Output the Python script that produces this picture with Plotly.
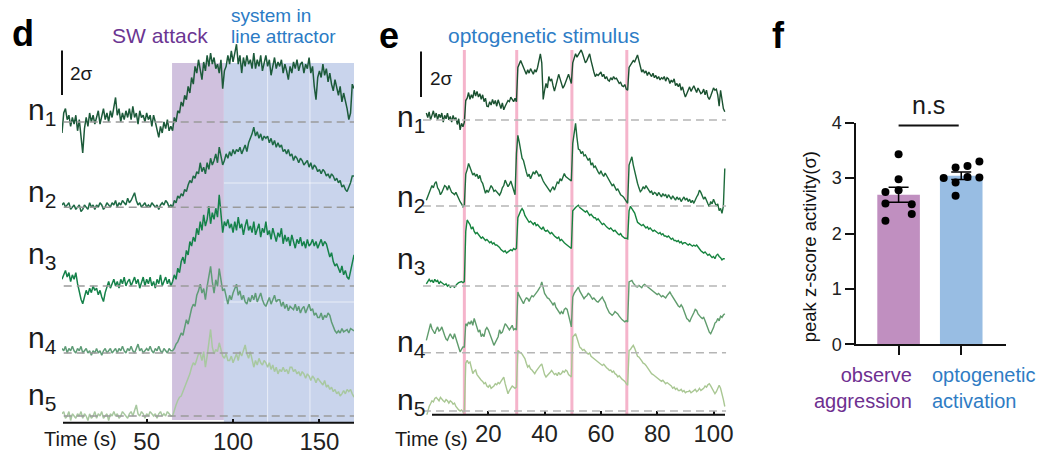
import plotly.graph_objects as go

# ---------------- DATA ----------------
# panel d : z-scored traces (sigma, relative to each neuron's baseline), 1 s sampling from t = 1 s
d_t0, d_step = 1.0, 1.0
d_n1 = [-0.5, 0.4, 0.6, 0.1, 0.3, -0.2, 0.2, -0.1, 0.3, -0.4,
        0.1, -0.6, -1.4, -0.3, 0.2, -0.2, 0.4, 0.0, 0.3, -0.1,
        0.2, 0.5, -0.1, 0.3, 0.6, 0.1, 0.4, 0.0, 0.5, 0.2,
        0.7, 1.1, 0.3, 0.6, 0.0, 0.4, 0.1, 0.5, 0.2, 0.6,
        0.1, 0.7, 0.2, 0.4, -0.1, 0.5, 0.2, 0.3, 0.0, 0.4,
        0.1, 0.3, -0.2, 0.3, 0.0, -0.3, -0.7, -0.2, -0.5, 0.0,
        -0.3, 0.1, -0.4, -0.2, -0.4, 0.2, 0.0, 0.5, 0.4, 0.9,
        0.7, 1.2, 1.0, 1.6, 1.3, 2.0, 1.7, 2.5, 2.2, 2.8,
        2.4, 1.9, 2.7, 2.3, 3.0, 2.5, 3.1, 2.6, 2.9, 2.4,
        2.6, 2.2, 2.8, 1.5, 2.3, 2.5, 3.0, 2.6, 3.2, 2.7,
        3.1, 3.5, 2.6, 3.0, 2.2, 2.9, 2.5, 3.0, 2.6, 2.8,
        2.4, 3.1, 2.4, 2.8, 2.5, 3.0, 2.3, 2.7, 3.0, 2.5,
        2.8, 2.1, 2.6, 2.9, 2.4, 2.7, 2.5, 2.8, 2.2, 2.6,
        2.3, 1.9, 2.5, 2.2, 2.7, 2.4, 2.8, 2.3, 2.6, 2.7,
        2.2, 2.6, 2.4, 2.9, 2.2, 2.5, 1.6, 1.0, 2.0, 2.3,
        2.0, 2.6, 2.1, 2.4, 1.8, 2.2, 1.7, 1.4, 1.9, 1.5,
        1.2, 1.6, 0.9, 1.3, 1.0, 0.6, 0.1, 0.4, 1.7, 1.5]
d_n2 = [0.1, 0.2, 0.0, 0.1, 0.2, -0.1, 0.0, 0.1, -0.1, 0.0,
        0.1, -0.2, -0.1, 0.1, 0.0, -0.1, 0.2, 0.0, 0.1, -0.1,
        0.1, 0.0, 0.2, 0.1, -0.1, 0.0, 0.2, 0.1, 0.0, 0.2,
        0.1, 0.3, 0.0, 0.2, 0.1, 0.3, 0.2, 0.1, 0.4, 0.2,
        0.3, 0.5, 0.65, 0.3, 0.1, 0.2, 0.0, 0.1, 0.2, 0.0,
        0.1, 0.0, 0.2, 0.1, 0.0, 0.1, -0.1, 0.1, 0.2, 0.1,
        0.3, 0.2, 0.0, 0.1, 0.0, 0.3, 0.2, 0.5, 0.4, 0.6,
        0.5, 0.8, 0.7, 1.0, 1.2, 1.1, 1.4, 1.3, 1.6, 1.5,
        2.0, 1.6, 1.8, 1.5, 2.0, 1.7, 2.2, 1.9, 2.1, 2.4,
        2.0, 2.7, 2.3, 1.9, 2.1, 2.4, 2.2, 2.5, 2.3, 2.6,
        2.4, 2.6, 2.5, 2.7, 2.4, 2.6, 2.8, 2.5, 2.9, 3.1,
        3.3, 3.6, 3.2, 3.4, 3.1, 3.3, 3.0, 3.2, 3.1, 3.2,
        2.9, 3.1, 2.8, 3.0, 2.7, 2.9, 2.7, 2.8, 2.5, 2.6,
        2.4, 2.6, 2.3, 2.4, 2.1, 2.3, 2.2, 2.0, 2.2, 2.1,
        1.9, 2.0, 2.1, 1.8, 2.0, 1.7, 1.9, 1.8, 1.6, 1.7,
        1.5, 1.7, 1.6, 1.4, 1.5, 1.3, 1.5, 1.4, 1.2, 1.3,
        1.1, 1.2, 0.9, 1.0, 0.8, 0.7, 0.9, 1.1, 1.4, 1.4]
d_n3 = [0.3, 0.5, 0.7, 0.4, 0.6, 0.2, 0.5, 0.3, 0.6, 0.1,
        -0.3, -0.6, -0.8, -0.5, -0.2, -0.4, -0.1, -0.3, 0.0, -0.2,
        -0.1, -0.4, -0.2, -0.5, -0.7, -0.3, 0.0, 0.2, -0.1, 0.1,
        0.3, 0.0, 0.2, -0.1, 0.3, 0.1, 0.4, 0.0, 0.2, 0.3,
        0.0, 0.2, 0.4, 0.1, 0.3, -0.1, 0.2, 0.4, 0.0, 0.3,
        0.1, 0.4, 0.0, 0.2, -0.1, 0.3, 0.1, 0.5, 0.0, 0.2,
        0.4, 0.1, 0.3, 0.0, 0.2, 0.5, 0.3, 0.8, 0.6, 1.1,
        1.3, 1.0, 1.6, 1.4, 2.0, 1.8, 2.2, 2.0, 2.6, 2.3,
        2.9, 2.5, 3.2, 2.7, 3.0, 3.6, 2.8, 3.3, 3.0, 3.5,
        3.1, 4.1, 3.3, 2.4, 2.9, 2.7, 3.0, 2.6, 2.8, 2.4,
        2.9, 2.5, 3.1, 2.6, 2.8, 2.3, 2.7, 3.0, 2.5, 2.7,
        2.4, 2.9, 2.3, 2.6, 2.8, 2.2, 2.6, 2.4, 2.9, 2.3,
        2.5, 2.1, 2.6, 2.3, 2.0, 2.4, 2.2, 2.6, 1.9, 2.3,
        2.0, 2.2, 1.8, 2.3, 2.0, 1.7, 2.1, 1.9, 2.2, 1.8,
        2.0, 1.7, 2.1, 1.8, 1.9, 2.1, 1.8, 2.0, 1.7, 1.9,
        2.1, 1.8, 2.0, 1.9, 1.6, 1.3, 1.5, 1.1, 0.9, 1.0,
        0.8, 0.6, 0.9, 0.5, 0.7, 0.4, 0.3, 0.7, 1.1, 1.4]
d_n4 = [0.2, 0.1, 0.3, 0.0, 0.2, 0.1, 0.3, 0.1, 0.0, 0.2,
        0.1, 0.3, 0.0, 0.1, 0.2, 0.0, 0.1, -0.1, 0.1, 0.0,
        0.2, 0.0, 0.1, -0.1, 0.1, 0.2, 0.0, 0.1, 0.2, 0.0,
        0.1, 0.2, 0.0, 0.2, 0.1, 0.3, 0.1, 0.0, 0.2, 0.1,
        0.3, 0.1, 0.0, 0.2, 0.4, 0.1, 0.2, 0.0, 0.1, 0.2,
        0.1, 0.3, 0.1, 0.0, 0.2, 0.1, 0.3, 0.1, 0.0, 0.2,
        0.1, 0.0, 0.2, 0.1, 0.1, 0.2, 0.4, 0.5, 0.7, 0.9,
        0.8, 1.1, 1.5, 1.3, 1.7, 2.0, 2.2, 2.1, 2.6, 2.8,
        3.1, 2.7, 2.9, 2.4, 3.0, 3.4, 3.9, 3.2, 2.7, 3.3,
        3.0, 3.8, 3.3, 2.8, 2.9, 2.5, 2.2, 2.6, 2.4, 2.7,
        2.9, 3.1, 2.6, 2.8, 2.4, 2.6, 2.3, 2.2, 2.5, 2.3,
        2.6, 2.4, 2.7, 2.3, 2.5, 2.7, 2.4, 2.2, 2.1, 2.3,
        2.5, 2.2, 2.4, 2.6, 2.3, 2.4, 2.4, 2.1, 2.3, 2.0,
        2.2, 1.9, 2.1, 2.0, 1.95, 2.2, 1.9, 2.1, 1.8, 2.0,
        2.1, 1.8, 2.0, 2.2, 1.9, 2.0, 1.7, 1.8, 1.6, 1.6,
        1.8, 1.5, 1.7, 1.6, 1.8, 1.7, 1.4, 1.2, 1.0, 0.9,
        1.0, 0.9, 1.1, 0.95, 1.0, 1.05, 0.9, 1.1, 1.05, 1.0]
d_n5 = [0.1, 0.2, -0.1, 0.0, 0.2, -0.2, 0.1, 0.0, -0.1, 0.1,
        0.0, 0.2, -0.1, 0.1, 0.0, -0.2, 0.1, -0.1, 0.0, 0.2,
        -0.1, 0.1, 0.0, 0.2, -0.1, 0.0, 0.1, -0.2, 0.1, 0.0,
        0.2, 0.0, 0.1, -0.1, 0.0, 0.2, 0.1, 0.0, -0.1, 0.1,
        0.2, 0.0, 0.3, 0.5, 0.1, 0.0, 0.2, 0.1, -0.1, 0.1,
        0.0, 0.2, 0.1, 0.0, 0.1, -0.1, 0.1, 0.2, 0.0, 0.1,
        0.0, 0.2, 0.1, 0.0, 0.0, 0.3, 0.5, 0.7, 0.85, 0.9,
        1.1, 1.3, 1.5, 1.7, 1.9, 2.2, 2.4, 2.3, 2.6, 2.8,
        2.8, 2.5, 2.9, 2.2, 2.7, 3.2, 3.9, 3.1, 2.8, 3.0,
        2.9, 3.3, 3.0, 2.7, 2.6, 2.8, 2.5, 2.5, 2.7, 2.4,
        2.6, 2.8, 2.5, 2.9, 2.7, 3.0, 3.2, 2.8, 2.6, 2.9,
        2.5, 2.2, 2.5, 2.3, 2.6, 2.4, 2.3, 2.5, 2.4, 2.2,
        2.4, 2.1, 2.3, 2.0, 2.2, 1.9, 2.1, 2.0, 2.2, 2.0,
        2.1, 1.9, 2.2, 2.2, 2.0, 2.1, 1.9, 2.0, 1.8, 2.0,
        1.9, 1.7, 1.9, 1.8, 1.6, 1.8, 1.7, 1.5, 1.7, 1.6,
        1.55, 1.4, 1.6, 1.3, 1.4, 1.2, 1.3, 1.1, 1.2, 1.0,
        1.1, 0.9, 1.0, 1.15, 1.0, 1.2, 1.1, 1.2, 1.0, 0.85]
d_attack = [64.7, 94.7]        # SW attack window (s)
d_attractor = [94.7, 170.0]    # line-attractor window (s)
d_ticks = [50, 100, 150]

# panel e : 0.5 s sampling from t = -2 s
e_t0, e_step = -2.0, 0.5
e_n1 = [0.3, 0.1, 0.35, 0.0, 0.2, 0.4, 0.1, 0.3, 0.0, 0.25,
        0.1, 0.3, -0.1, 0.2, 0.05, 0.3, 0.0, 0.15, -0.1, 0.2,
        0.0, 0.1, -0.2, 0.05, -0.44, -0.15, -0.3, -0.1, 0.85, 0.95,
        1.2, 0.9, 1.1, 0.95, 1.3, 1.05, 1.25, 1.0, 1.15, 0.9,
        1.1, 0.8, 0.95, 0.6, 0.58, 0.8, 0.65, 0.9, 0.7, 0.85,
        0.6, 0.88, 0.7, 0.5, 0.75, 0.44, 0.6, 0.7, 0.85, 0.8,
        1.0, 0.9, 0.8, 0.95, 0.8, 2.3, 2.5, 2.6, 2.45, 2.3,
        2.1, 2.0, 2.2, 2.05, 2.25, 2.1, 2.0, 2.2, 2.1, 2.3,
        2.6, 2.9, 2.5, 0.9, 1.3, 1.6, 1.4, 1.9, 1.7, 1.8,
        1.5, 1.26, 1.5, 1.7, 2.0, 1.8, 1.6, 1.39, 1.5, 1.7,
        1.9, 2.0, 1.8, 1.6, 2.5, 2.7, 2.9, 2.75, 2.85, 3.0,
        3.07, 2.9, 2.7, 2.5, 2.6, 2.8, 2.9, 2.6, 2.3, 2.1,
        1.9, 2.0, 1.95, 2.05, 2.1, 1.9, 2.0, 1.8, 1.9, 1.75,
        1.7, 1.85, 1.75, 1.9, 1.8, 1.83, 1.7, 1.6, 1.65, 1.5,
        1.46, 1.55, 1.35, 1.3, 2.3, 2.4, 2.5, 2.6, 2.55, 2.75,
        2.85, 2.6, 2.4, 2.1, 2.2, 2.05, 2.15, 1.95, 2.1, 2.0,
        1.9, 2.05, 1.85, 1.95, 1.8, 1.9, 1.75, 1.85, 1.8, 1.9,
        1.7, 1.85, 1.8, 1.6, 1.75, 1.65, 1.8, 1.5, 1.6, 1.45,
        1.6, 1.3, 1.45, 1.2, 1.0, 1.15, 1.3, 1.45, 1.25, 1.4,
        1.5, 1.35, 1.2, 1.4, 1.25, 1.15, 1.2, 1.35, 1.1, 1.3,
        1.0, 0.9, 1.05, 1.2, 1.4, 1.3, 1.35, 1.1, 0.6, 1.3,
        0.8, 0.5, 0.36]
e_n2 = [0.26, 0.4, 0.55, 0.7, 0.9, 0.8, 1.0, 1.07, 0.8, 0.7,
        0.5, 0.6, 0.75, 0.9, 0.85, 0.7, 0.9, 0.75, 0.6, 0.56,
        0.5, 0.6, 0.45, 0.3, 0.19, 0.1, -0.03, 0.05, 1.4, 1.6,
        1.87, 1.7, 1.5, 1.36, 1.45, 1.3, 1.4, 1.2, 1.35, 1.1,
        1.0, 0.8, 0.56, 0.7, 0.6, 0.75, 0.9, 0.8, 0.65, 0.7,
        0.6, 0.55, 0.48, 0.6, 0.8, 0.9, 1.14, 1.0, 0.85, 0.95,
        1.1, 0.9, 0.7, 0.5, 2.3, 3.1, 2.8, 2.4, 2.1, 2.0,
        1.7, 1.5, 1.29, 1.4, 1.2, 1.35, 1.5, 1.4, 1.55, 1.45,
        1.3, 1.4, 1.2, 1.1, 1.0, 0.9, 0.8, 0.7, 0.63, 0.75,
        0.85, 0.7, 0.9, 1.05, 1.0, 1.2, 1.1, 1.3, 1.43, 1.3,
        1.25, 1.2, 1.15, 1.1, 2.75, 3.1, 3.63, 3.0, 2.5, 2.46,
        2.3, 2.4, 2.2, 2.25, 2.1, 2.0, 2.1, 1.8, 1.9, 1.7,
        1.75, 1.6, 1.5, 1.4, 1.55, 1.4, 1.3, 1.45, 1.35, 1.2,
        1.1, 1.0, 0.9, 0.95, 0.85, 0.7, 0.75, 0.6, 0.5, 0.45,
        0.4, 0.3, 0.2, 0.12, 1.8, 2.0, 2.16, 1.8, 1.5, 1.2,
        1.0, 0.8, 0.63, 0.7, 0.85, 0.75, 0.9, 0.8, 0.7, 0.6,
        0.65, 0.5, 0.6, 0.56, 0.45, 0.6, 0.5, 0.4, 0.55, 0.45,
        0.5, 0.35, 0.5, 0.4, 0.3, 0.45, 0.35, 0.26, 0.4, 0.3,
        0.35, 0.2, 0.3, 0.4, 0.26, 0.35, 0.2, 0.3, 0.15, 0.25,
        0.12, 0.3, 0.4, 0.5, 0.7, 0.6, 0.45, 0.3, 0.4, 0.2,
        0.1, -0.03, 0.2, 0.1, 0.3, 0.15, 0.0, 0.1, -0.2, -0.1,
        -0.32, 0.0, 1.65]
e_n3 = [0.1, 0.2, 0.3, 0.2, 0.25, 0.15, 0.3, 0.2, 0.25, 0.1,
        0.2, 0.15, 0.1, 0.05, 0.1, 0.0, 0.05, -0.05, 0.0, 0.0,
        -0.05, 0.05, 0.1, 0.15, 0.18, 0.2, 0.15, 0.2, 2.4, 2.9,
        2.8, 2.7, 2.5, 2.6, 2.4, 2.3, 2.35, 2.25, 2.2, 2.1,
        2.15, 2.05, 2.0, 2.05, 1.95, 1.9, 1.95, 1.85, 1.9, 1.8,
        1.8, 1.75, 1.7, 1.6, 1.55, 1.5, 1.55, 1.45, 1.5, 1.55,
        1.6, 1.55, 1.65, 1.6, 1.65, 3.0, 3.2, 3.3, 3.4, 3.3,
        3.1, 3.0, 2.9, 2.8, 2.85, 2.75, 2.7, 2.8, 2.65, 2.7,
        2.6, 2.55, 2.5, 2.6, 2.45, 2.4, 2.45, 2.37, 2.3, 2.35,
        2.25, 2.2, 2.15, 2.1, 2.15, 2.0, 2.05, 1.95, 1.9, 1.85,
        1.8, 1.75, 1.7, 1.65, 3.3, 3.4, 3.45, 3.5, 3.55, 3.45,
        3.4, 3.35, 3.3, 3.25, 3.3, 3.2, 3.1, 3.15, 3.05, 3.0,
        3.0, 2.9, 2.95, 2.85, 2.8, 2.7, 2.75, 2.65, 2.6, 2.55,
        2.5, 2.55, 2.45, 2.4, 2.45, 2.35, 2.3, 2.25, 2.3, 2.2,
        2.15, 2.1, 2.1, 2.07, 3.3, 3.5, 3.4, 3.3, 3.2, 3.0,
        2.8, 2.75, 2.7, 2.65, 2.7, 2.6, 2.55, 2.6, 2.5, 2.55,
        2.45, 2.4, 2.45, 2.4, 2.35, 2.3, 2.35, 2.25, 2.3, 2.2,
        2.2, 2.15, 2.2, 2.1, 2.05, 2.1, 2.0, 2.0, 1.95, 2.0,
        1.9, 1.95, 1.85, 1.9, 1.9, 1.85, 1.8, 1.85, 1.8, 1.75,
        1.8, 1.75, 1.8, 1.7, 1.6, 1.55, 1.5, 1.45, 1.5, 1.4,
        1.35, 1.4, 1.3, 1.25, 1.3, 1.2, 1.35, 1.4, 1.3, 1.25,
        1.15, 1.2, 1.2]
e_n4 = [0.54, 0.8, 1.0, 1.27, 1.05, 0.9, 0.83, 1.0, 1.13, 0.95,
        1.0, 1.13, 0.9, 0.75, 0.6, 0.54, 0.7, 0.83, 0.7, 0.6,
        0.83, 0.6, 0.4, 0.2, 0.03, 0.15, 0.25, 0.25, 1.27, 1.2,
        1.35, 1.25, 1.4, 1.2, 1.5, 1.3, 1.1, 0.9, 1.0, 0.7,
        0.8, 0.7, 1.0, 1.1, 1.0, 0.8, 0.6, 0.5, 0.32, 0.45,
        0.6, 0.7, 1.0, 0.85, 0.9, 1.1, 1.27, 1.2, 1.1, 1.0,
        1.1, 1.2, 1.0, 1.05, 1.0, 2.66, 2.5, 2.4, 2.3, 2.15,
        2.3, 2.4, 2.37, 2.25, 2.4, 2.5, 2.45, 2.52, 2.6, 2.7,
        2.8, 2.9, 3.1, 2.8, 2.6, 2.5, 2.4, 2.37, 2.3, 2.2,
        2.1, 2.2, 2.0, 1.9, 1.8, 1.71, 1.8, 1.7, 1.9, 1.95,
        1.9, 1.7, 1.4, 1.13, 2.44, 2.6, 2.7, 2.8, 2.88, 2.7,
        2.6, 2.5, 2.37, 2.45, 2.5, 2.6, 2.55, 2.45, 2.35, 2.4,
        2.3, 2.25, 2.22, 2.3, 2.35, 2.44, 2.3, 2.2, 2.0, 1.85,
        1.75, 1.7, 1.64, 1.7, 1.8, 1.75, 1.7, 1.6, 1.5, 1.45,
        1.4, 1.35, 1.4, 1.35, 3.1, 3.15, 3.17, 3.05, 2.95, 2.9,
        2.88, 2.95, 2.9, 2.85, 2.95, 3.0, 2.95, 2.9, 2.85, 2.8,
        2.75, 2.7, 2.65, 2.6, 2.55, 2.6, 2.5, 2.45, 2.5, 2.44,
        2.4, 2.5, 2.6, 2.66, 2.55, 2.45, 2.3, 2.2, 2.1, 2.05,
        2.0, 2.1, 2.0, 1.8, 1.6, 1.5, 1.45, 1.35, 1.5, 1.6,
        1.75, 1.9, 1.85, 1.7, 1.6, 1.55, 1.5, 1.55, 1.4, 1.2,
        1.0, 0.9, 0.83, 0.95, 1.1, 1.3, 1.35, 1.5, 1.4, 1.6,
        1.55, 1.65, 1.71]
e_n5 = [-0.26, 0.0, 0.2, 0.32, 0.45, 0.4, 0.55, 0.6, 0.5, 0.45,
        0.6, 0.5, 0.45, 0.4, 0.5, 0.45, 0.35, 0.45, 0.4, 0.3,
        0.35, 0.2, 0.1, 0.05, 0.0, 0.05, -0.04, -0.02, 2.1, 2.22,
        2.1, 2.15, 1.9, 1.64, 1.75, 1.8, 1.6, 1.5, 1.4, 1.35,
        1.3, 1.2, 1.25, 1.1, 1.05, 1.15, 1.0, 1.05, 1.1, 1.2,
        1.15, 1.25, 1.2, 1.3, 1.4, 1.49, 1.2, 0.9, 0.76, 0.9,
        1.0, 1.1, 1.05, 1.0, 1.05, 2.66, 2.6, 2.55, 2.5, 2.4,
        2.3, 2.1, 1.93, 2.0, 1.85, 1.8, 1.7, 1.64, 1.75, 1.85,
        1.9, 2.0, 2.07, 1.8, 1.6, 1.49, 1.55, 1.65, 1.7, 1.78,
        1.7, 1.6, 1.65, 1.55, 1.7, 1.6, 1.65, 1.75, 1.7, 1.8,
        1.75, 1.6, 1.55, 1.49, 3.25, 3.3, 3.39, 3.2, 3.0, 2.8,
        2.75, 2.66, 2.7, 2.6, 2.55, 2.5, 2.55, 2.4, 2.35, 2.3,
        2.25, 2.22, 2.15, 2.1, 2.05, 2.0, 2.05, 1.95, 1.9, 1.85,
        1.78, 1.8, 1.7, 1.75, 1.64, 1.6, 1.5, 1.55, 1.45, 1.4,
        1.35, 1.3, 1.2, 1.13, 2.66, 2.7, 2.8, 2.88, 2.75, 2.6,
        2.4, 2.37, 2.3, 2.2, 2.1, 2.07, 2.0, 1.9, 1.85, 1.7,
        1.64, 1.6, 1.55, 1.5, 1.45, 1.4, 1.35, 1.3, 1.35, 1.25,
        1.2, 1.25, 1.2, 1.15, 1.1, 1.0, 1.05, 0.95, 1.0, 0.9,
        0.9, 0.95, 0.85, 0.9, 0.8, 0.85, 0.85, 0.9, 0.8, 0.85,
        0.9, 0.95, 0.85, 0.9, 1.0, 0.9, 0.95, 1.0, 1.1, 1.05,
        1.15, 1.2, 1.1, 1.0, 0.9, 0.76, 0.85, 1.0, 1.13, 1.0,
        0.8, 0.5, 0.2]
stim_times = [11.5, 30.1, 49.7, 69.2]
e_ticks = [20, 40, 60, 80, 100]

# panel f : peak z-score per animal
f_obs = [3.43, 2.98, 2.78, 2.75, 2.54, 2.53, 2.35, 2.23]
f_opto = [3.30, 3.22, 3.19, 3.00, 3.01, 3.02, 2.92, 2.68]
f_labels = ["observe<br>aggression", "optogenetic<br>activation"]
f_yticks = [0, 1, 2, 3, 4]
f_ytitle = "peak z-score activity(σ)"

neuron_labels = ["n<sub>1</sub>", "n<sub>2</sub>", "n<sub>3</sub>", "n<sub>4</sub>", "n<sub>5</sub>"]

# ---------------- LAYOUT CONSTANTS ----------------
W, H = 1045, 454
FONT = "Liberation Sans, Arial, sans-serif"


def px(x):
    return x / W


def py(y):
    return 1 - y / H


def mean(v):
    return sum(v) / len(v)


def sem(v):
    m = mean(v)
    return (sum((a - m) ** 2 for a in v) / (len(v) - 1)) ** 0.5 / len(v) ** 0.5


# panel d geometry
D_SIG = 22.2
D_BOT = 422.7
d_offsets = [13.55, 9.71, 6.16, 3.14, 0.30]
d_colors = ['#1c5a3a', '#1e6a45', '#15824a', '#5f9c77', '#a8c8a0']
# panel e geometry
E_SIG = 22.8
E_BOT = 414.7
e_offsets = [12.93, 9.15, 5.64, 2.72, 0.16]
e_colors = ['#1a5130', '#1d6b3b', '#16843f', '#609c6d', '#a9c793']

fig = go.Figure()

# ---- panel d traces
for vals, off, col in zip([d_n1, d_n2, d_n3, d_n4, d_n5], d_offsets, d_colors):
    xs = [d_t0 + d_step * i for i in range(len(vals))]
    fig.add_trace(go.Scatter(x=xs, y=[v + off for v in vals], mode='lines',
                             line=dict(color=col, width=1.5), xaxis='x', yaxis='y',
                             hoverinfo='skip'))
# ---- panel e traces
for vals, off, col in zip([e_n1, e_n2, e_n3, e_n4, e_n5], e_offsets, e_colors):
    xs = [e_t0 + e_step * i for i in range(len(vals))]
    fig.add_trace(go.Scatter(x=xs, y=[v + off for v in vals], mode='lines',
                             line=dict(color=col, width=1.4), xaxis='x2', yaxis='y2',
                             hoverinfo='skip'))
# ---- panel f bars
fig.add_trace(go.Bar(x=[0, 1], y=[mean(f_obs), mean(f_opto)], width=0.68,
                     marker=dict(color=['#c08fc0', '#98bde3'], line=dict(width=0)),
                     error_y=dict(type='data', array=[sem(f_obs), sem(f_opto)],
                                  color='black', thickness=1.5, width=10),
                     xaxis='x3', yaxis='y3', hoverinfo='skip'))
obs_jit = [0, 0, 0, -0.21, -0.21, 0.21, 0.21, -0.21]
opto_jit = [0.29, 0.10, -0.09, -0.28, 0.29, 0.10, -0.09, -0.09]
fig.add_trace(go.Scatter(x=[0 + j for j in obs_jit] + [1 + j for j in opto_jit],
                         y=f_obs + f_opto, mode='markers',
                         marker=dict(color='black', size=8),
                         xaxis='x3', yaxis='y3', cliponaxis=False, hoverinfo='skip'))
# empty trace that carries the (offset) y-title axis of panel f
fig.add_trace(go.Scatter(x=[], y=[], xaxis='x3', yaxis='y4', hoverinfo='skip'))

shapes = []
# shading d
shapes.append(dict(type='rect', xref='x', yref='y', x0=d_attack[0], x1=d_attack[1],
                   y0=(D_BOT - 420) / D_SIG, y1=(D_BOT - 63) / D_SIG,
                   fillcolor='rgb(208,193,222)', line=dict(width=0), layer='below'))
shapes.append(dict(type='rect', xref='x', yref='y', x0=d_attractor[0], x1=d_attractor[1],
                   y0=0, y1=(D_BOT - 63) / D_SIG,
                   fillcolor='rgb(201,212,236)', line=dict(width=0), layer='below'))
for gx in [120, 144.5]:
    shapes.append(dict(type='line', xref='x', yref='y', x0=gx, x1=gx, y0=0,
                       y1=(D_BOT - 63) / D_SIG, line=dict(color='rgba(255,255,255,0.6)', width=1),
                       layer='below'))
for gy in [(D_BOT - 183) / D_SIG, (D_BOT - 302) / D_SIG]:
    shapes.append(dict(type='line', xref='x', yref='y', x0=d_attractor[0], x1=d_attractor[1],
                       y0=gy, y1=gy, line=dict(color='rgba(255,255,255,0.6)', width=1),
                       layer='below'))
# baselines d
for off in d_offsets:
    shapes.append(dict(type='line', xref='x', yref='y', x0=2, x1=170, y0=off, y1=off,
                       line=dict(color='#9a9a9a', width=1.5, dash='8px,5px')))
# stim lines e
for s in stim_times:
    shapes.append(dict(type='line', xref='x2', yref='y2', x0=s, x1=s, y0=0,
                       y1=(E_BOT - 50) / E_SIG, line=dict(color='#f5b4cb', width=3),
                       layer='below'))
# baselines e
for off in e_offsets:
    shapes.append(dict(type='line', xref='x2', yref='y2', x0=-3.2, x1=104.5, y0=off, y1=off,
                       line=dict(color='#b5b5b5', width=1.5, dash='8px,5px')))
# axis lines + scale bars (paper)
shapes.append(dict(type='line', xref='paper', yref='paper', x0=px(63), x1=px(354),
                   y0=py(D_BOT), y1=py(D_BOT), line=dict(color='#111', width=2)))
shapes.append(dict(type='line', xref='paper', yref='paper', x0=px(432), x1=px(725),
                   y0=py(E_BOT), y1=py(E_BOT), line=dict(color='#111', width=2)))
shapes.append(dict(type='line', xref='paper', yref='paper', x0=px(62), x1=px(62),
                   y0=py(95), y1=py(95 - 2 * D_SIG), line=dict(color='#111', width=2)))
shapes.append(dict(type='line', xref='paper', yref='paper', x0=px(421), x1=px(421),
                   y0=py(97), y1=py(97 - 2 * E_SIG), line=dict(color='#111', width=2)))
# n.s bar
shapes.append(dict(type='line', xref='x3', yref='y3', x0=0, x1=0.96, y0=3.95, y1=3.95,
                   line=dict(color='#111', width=2)))

ann = []


def A(text, x, y, size, color='#1a1a1a', xanchor='center', yanchor='middle', align='center'):
    ann.append(dict(text=text, x=px(x), y=py(y), xref='paper', yref='paper', showarrow=False,
                    xanchor=xanchor, yanchor=yanchor, align=align,
                    font=dict(size=size, color=color, family=FONT)))


A('<b>d</b>', 22.5, 33, 36, color='black')
A('<b>e</b>', 389, 35, 36, color='black')
A('<b>f</b>', 778, 35, 36, color='black')
A('SW attack', 160, 35, 21, color='#6b3592')
A('system in', 229, 15, 19, color='#2b7bc5', xanchor='left')
A('line attractor', 229, 37, 19, color='#2b7bc5', xanchor='left')
A('optogenetic stimulus', 543, 36, 21, color='#2e7dc6')
A('2σ', 68, 73, 19, xanchor='left')
A('2σ', 428, 78, 19, xanchor='left')
A('Time (s)', 80.5, 439, 20)
A('Time (s)', 431.5, 439, 20)
d_lab_y = [111, 193, 255, 339, 396]
e_lab_y = [118, 199, 260, 343, 401]
for lab, yy in zip(neuron_labels, d_lab_y):
    A(lab, 26, yy, 30, xanchor='left')
for lab, yy in zip(neuron_labels, e_lab_y):
    A(lab, 395, yy, 30, xanchor='left')
A('n.s', 928.3, 105, 25)
A(f_labels[0], 914, 362, 20, color='#6e2f90', xanchor='right', yanchor='top', align='right')
A(f_labels[1], 929.5, 362, 20, color='#2f7cc4', xanchor='left', yanchor='top', align='left')

fig.update_layout(
    width=W, height=H, margin=dict(l=0, r=0, t=0, b=0, autoexpand=False),
    paper_bgcolor='white', plot_bgcolor='rgba(0,0,0,0)', showlegend=False,
    font=dict(family=FONT, color='#1a1a1a'),
    xaxis=dict(domain=[px(62), px(354)], range=[1, 170], anchor='y', automargin=False,
               tickvals=d_ticks, ticks='inside', ticklen=4, tickwidth=1.5, tickcolor='#111',
               tickfont=dict(size=24, color='#222'), ticklabelstandoff=2,
               showgrid=False, zeroline=False, showline=False, fixedrange=True),
    yaxis=dict(domain=[py(D_BOT), py(40)], range=[0, (D_BOT - 40) / D_SIG], anchor='x',
               visible=False, automargin=False, fixedrange=True),
    xaxis2=dict(domain=[px(419.3), px(726.2)], range=[-4.5, 104.5], anchor='y2',
                automargin=False,
                tickvals=e_ticks, ticks='inside', ticklen=4, tickwidth=1.5, tickcolor='#111',
                tickfont=dict(size=24, color='#222'), ticklabelstandoff=2,
                showgrid=False, zeroline=False, showline=False, fixedrange=True),
    yaxis2=dict(domain=[py(E_BOT), py(40)], range=[0, (E_BOT - 40) / E_SIG], anchor='x2',
                visible=False, automargin=False, fixedrange=True),
    xaxis3=dict(domain=[px(856), px(1005.7)], range=[-0.68, 1.71], anchor='y3',
                automargin=False, fixedrange=True,
                tickvals=[0, 1], ticktext=['', ''], ticks='outside', ticklen=9, tickwidth=1.5,
                tickcolor='#111', showline=True, linecolor='#111', linewidth=1.5,
                showgrid=False, zeroline=False),
    yaxis3=dict(domain=[py(344.3), py(122.7)], range=[0, 4], anchor='x3', automargin=False,
                tickvals=f_yticks, ticks='outside', ticklen=9, tickwidth=1.5, tickcolor='#111',
                tickfont=dict(size=18, color='#222'), showline=True, linecolor='#111',
                linewidth=1.5, showgrid=False, zeroline=False, fixedrange=True),
    yaxis4=dict(domain=[py(370.7), py(122.7)], range=[0, 1], anchor='x3', automargin=False,
                showticklabels=False, ticks='', showline=False, showgrid=False,
                zeroline=False, fixedrange=True,
                title=dict(text=f_ytitle, font=dict(size=18.5, color='#111'), standoff=33)),
    shapes=shapes, annotations=ann,
)

fig.write_html("out.html", config={'displayModeBar': False},
               post_script="document.body.style.margin='0px';document.body.style.padding='0px';")
